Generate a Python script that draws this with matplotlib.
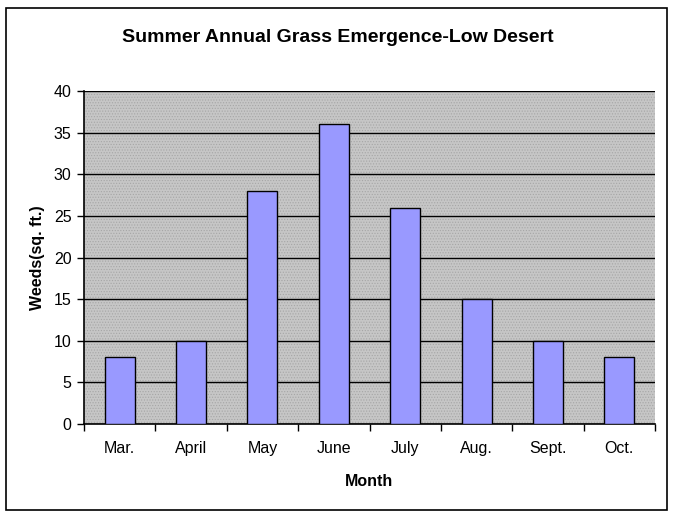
import matplotlib.pyplot as plt
import numpy as np
from matplotlib.patches import Rectangle

plt.rcParams['font.family'] = ['Liberation Sans', 'DejaVu Sans']
plt.rcParams['hatch.linewidth'] = 0.5

months = ['Mar.', 'April', 'May', 'June', 'July', 'Aug.', 'Sept.', 'Oct.']
weeds = [8, 10, 28, 36, 26, 15, 10, 8]

fig = plt.figure(figsize=(6.75, 5.18), dpi=100)
# outer border like the Excel chart area
fig.patches.append(Rectangle((6 / 675, 8 / 518), 661 / 675, 502 / 518,
                             transform=fig.transFigure, fill=False,
                             edgecolor='black', linewidth=1.2))

ax = fig.add_axes([84 / 675, 94 / 518, 571 / 675, 333 / 518])
ax.set_facecolor('#c6c6c6')
# dotted texture of the plot area
ax.add_patch(Rectangle((0, 0), 1, 1, transform=ax.transAxes, facecolor='none',
                       edgecolor='#a6a6a6', linewidth=0, hatch='......', zorder=0))

x = np.arange(len(months))
ax.bar(x, weeds, width=0.42, color='#9999ff', edgecolor='black',
       linewidth=1, zorder=3)

ax.set_xlim(-0.5, len(months) - 0.5)
ax.set_ylim(0, 40)
ax.set_yticks(range(0, 41, 5))
ax.yaxis.grid(True, color='black', linewidth=1, zorder=1)
ax.set_axisbelow(True)

ax.set_xticks(x)
ax.set_xticklabels(months, fontsize=11.5)
ax.set_xticks(np.arange(-0.5, len(months)), minor=True)
ax.tick_params(axis='x', which='major', length=0, pad=12)
ax.tick_params(axis='x', which='minor', length=5, width=1)
ax.tick_params(axis='y', length=5, width=1, labelsize=11.5, pad=4)

for s in ['top', 'right']:
    ax.spines[s].set_visible(False)
for s in ['left', 'bottom']:
    ax.spines[s].set_linewidth(1.2)

ax.set_xlabel('Month', fontsize=11.5, fontweight='bold', labelpad=13)
ax.set_ylabel('Weeds(sq. ft.)', fontsize=11.5, fontweight='bold', labelpad=6)
fig.text(0.5, 1 - 37 / 518, 'Summer Annual Grass Emergence-Low Desert',
         ha='center', va='center', fontsize=14, fontweight='bold')

fig.savefig('out.png', dpi=100)
